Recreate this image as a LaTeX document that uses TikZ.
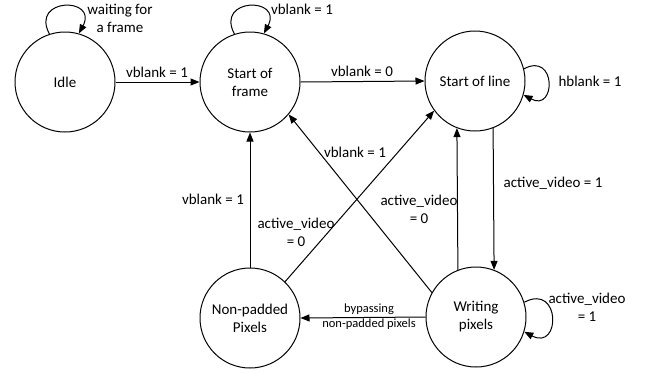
\documentclass[tikz,border=0pt]{standalone}
\usepackage{fontspec}
\setmainfont{Carlito}
\usepackage{tikz}
\usetikzlibrary{arrows.meta,positioning,calc}
\definecolor{fsmink}{RGB}{0,0,0}

\begin{document}
\begin{tikzpicture}[x=1pt,y=-1pt,line join=round,
    state/.style={circle,draw=fsmink,line width=1pt,minimum size=100pt,inner sep=0pt,
                  align=center,font=\fontsize{15}{18}\selectfont},
    trans/.style={draw=fsmink,line width=1pt,-{Triangle[length=9pt,width=7pt]}},
    lbl/.style={align=center,inner sep=0pt,font=\fontsize{15}{18}\selectfont},
    smalllbl/.style={align=center,inner sep=0pt,font=\fontsize{12.5}{15}\selectfont}]
  \useasboundingbox (0,0) rectangle (645,373);
  % --- states ---
  \node[state] (idle) at (65,82) {Idle};
  \node[state] (sof) at (250,82) {Start of\\frame};
  \node[state] (sol) at (475,81) {Start of line};
  \node[state] (npad) at (250,318) {Non-padded\\Pixels};
  \node[state] (wpix) at (476,317) {Writing\\pixels};
  % --- self loops ---
  \draw[trans] (idle.108) to[out=118,in=62,looseness=3.6] (idle.74);
  \draw[trans] (sof.108) to[out=118,in=62,looseness=3.6] (sof.74);
  \draw[trans] (sol.14) to[out=28,in=-28,looseness=3.6] (sol.-16);
  \draw[trans] (wpix.17) to[out=28,in=-28,looseness=3.6] (wpix.-17);
  % --- transitions ---
  \draw[trans] (idle.east) -- (sof.west);
  \draw[trans] (sof.east) -- (sol.west);
  \draw[trans] (sol.-69) -- (wpix.69);
  \draw[trans] (wpix.111) -- (sol.-111);
  \draw[trans] (wpix.151) -- (sof.-40);
  \draw[trans] (npad.46) -- (sol.-144);
  \draw[trans] (npad.north) -- (sof.south);
  \draw[trans] (wpix.west) -- (npad.east);
  % --- labels ---
  \node[lbl] (lwait) at (120,18) {waiting for\\a frame};
  \node[lbl] (lsof) at (302,9) {vblank = 1};
  \node[lbl] (lidle) at (157,72) {vblank = 1};
  \node[lbl] (lvb0) at (362,71) {vblank = 0};
  \node[lbl] (lhb) at (590,81) {hblank = 1};
  \node[lbl] (lav1) at (553,183) {active\_video = 1};
  \node[lbl] (ldiag) at (355,152) {vblank = 1};
  \node[lbl] (lnp) at (213,199) {vblank = 1};
  \node[lbl] (lnpav) at (296,232) {active\_video\\= 0};
  \node[lbl] (lwpav) at (419,209) {active\_video\\= 0};
  \node[lbl] (lloop) at (587,307) {active\_video\\= 1};
  \node[smalllbl] (lbyp) at (369,317) {bypassing\\non-padded pixels};
\end{tikzpicture}
\end{document}
